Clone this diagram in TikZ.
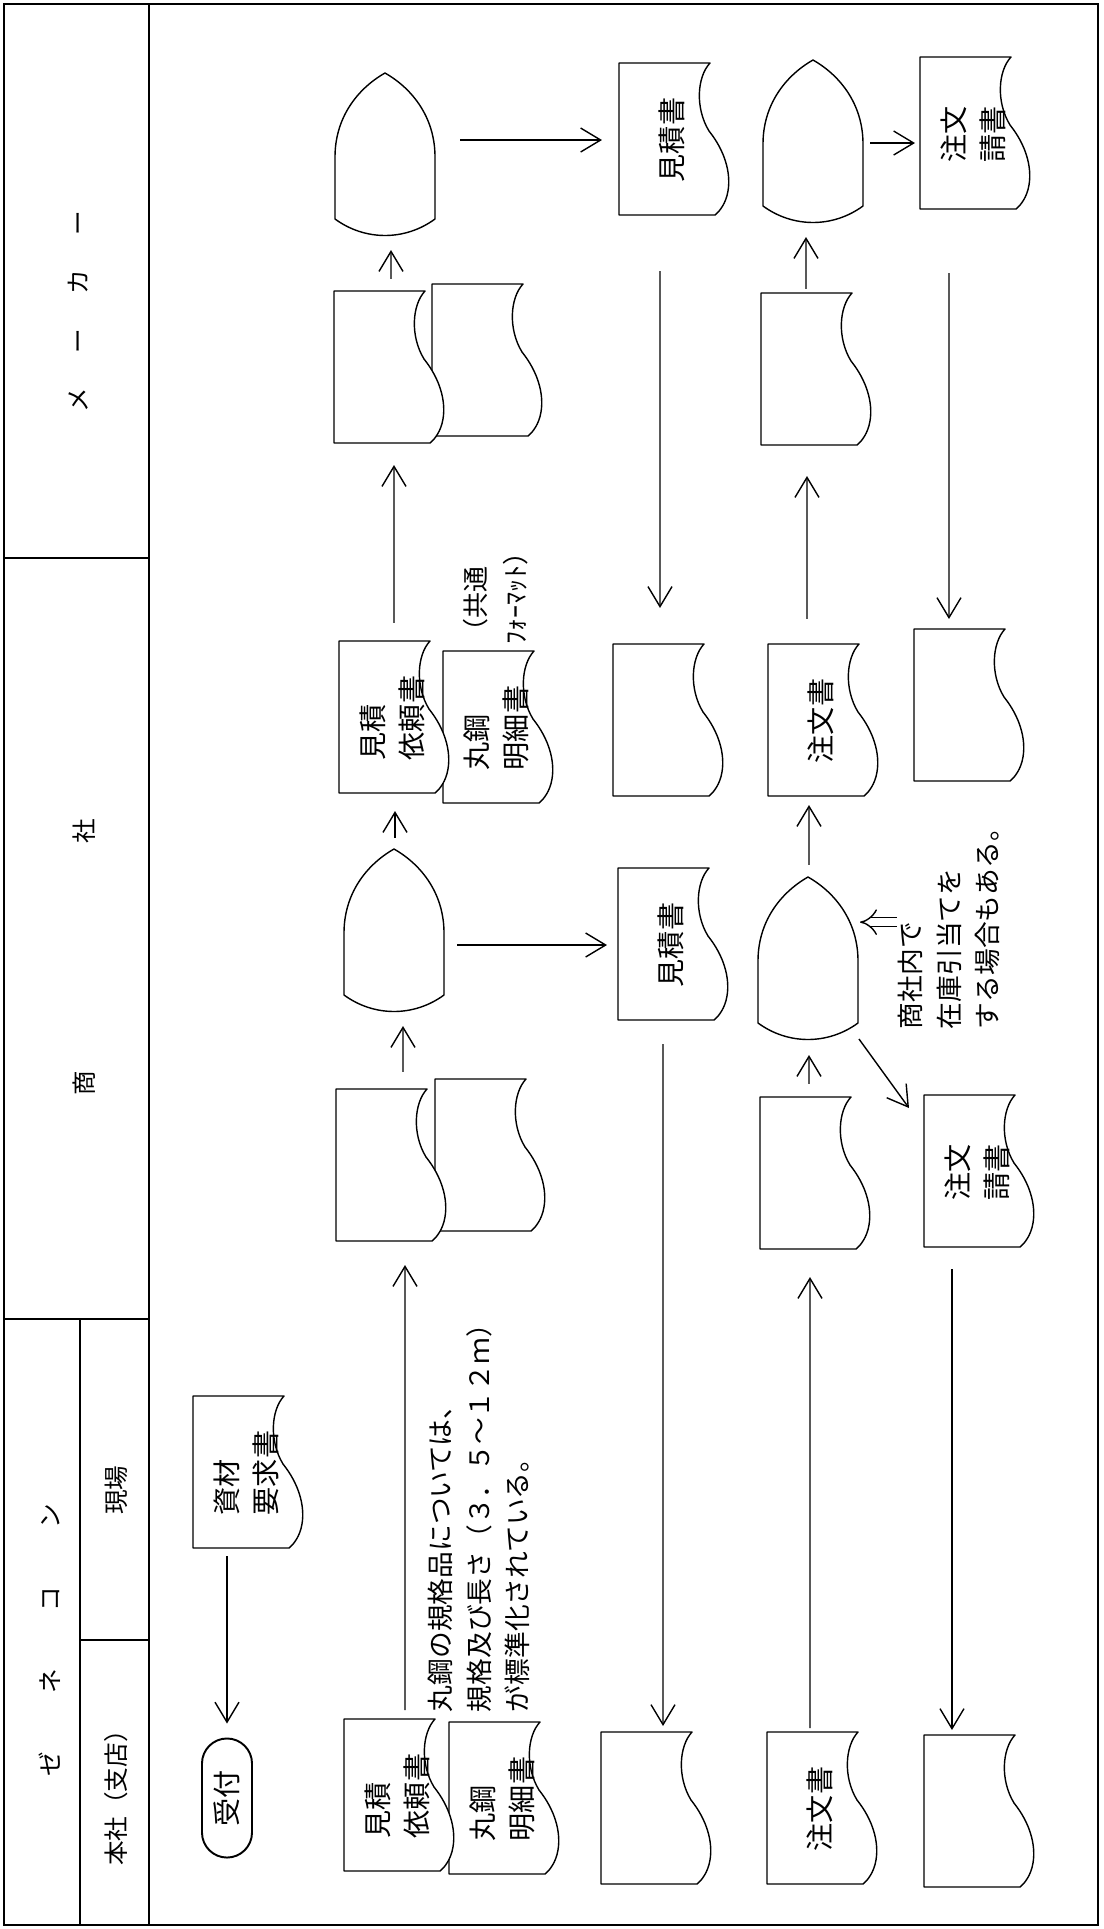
\documentclass[tikz,border=0pt]{standalone}
\usepackage{fontspec}
\setmainfont{Noto Sans CJK JP}
\usepackage{graphicx}
\usetikzlibrary{arrows.meta,calc,backgrounds}
\newcommand{\vtext}[1]{\rotatebox{90}{\begin{tabular}{@{}l@{}}#1\end{tabular}}\hspace{0.2cm}}

\begin{document}
\begin{tikzpicture}[
  	x=0.01cm,
  	y=-0.01cm,
  	line width=0.55pt,
  	font=\fontsize{8}{11}\selectfont,
  	docnode/.style={rectangle,draw=none,minimum width=1.10cm,minimum height=1.52cm,inner sep=0pt},
  	lensnode/.style={rectangle,draw=none,minimum width=1.00cm,minimum height=1.64cm,inner sep=0pt},
  	docline/.style={draw=black,fill=white,line join=round},
  	lanehead/.style={rotate=90,inner sep=0pt,font=\fontsize{7}{9}\selectfont},
  	note/.style={rotate=90,anchor=west,align=left,inner sep=0pt,font=\fontsize{7.6}{11}\selectfont},
  	pill/.style={draw,rounded corners=0.25cm,minimum width=0.5cm,minimum height=1.19cm,inner sep=0pt},
  	flow/.style={-{Straight Barb[length=2mm,width=2.4mm]}},
  	dblarrow/.style={double,double distance=2.2pt,-{Implies}}
  	]
  	\useasboundingbox (0,0) rectangle (1104,1929);
  	
  	% Frame and lane headers
  	\draw (4,4) rectangle (1098,1925);
  	\draw (149,4) -- (149,1925);
  	\draw (4,558) -- (149,558);
  	\draw (4,1319) -- (149,1319);
  	\draw (80,1319) -- (80,1925);
  	\draw (80,1640) -- (149,1640);
  	\node[lanehead] (hd-maker) at (78,312) {メ\hspace{1.4em}ー\hspace{1.4em}カ\hspace{1.4em}ー};
  	\node[lanehead] (hd-shosha) at (84,957) {商\hspace{2.27cm}社};
  	\node[lanehead] (hd-zenecon) at (50,1640) {ゼ\hspace{0.58cm}ネ\hspace{0.58cm}コ\hspace{0.58cm}ン};
  	\node[lanehead] (hd-genba) at (116,1490) {現場};
  	\node[lanehead] (hd-honsha) at (116,1792) {本社（支店）};
  	
  	% Maker lane
  	\node[lensnode] (a1) at (386,156) {};
  	\node[lensnode] (a3) at (814,143) {};
  	\node[docnode] (m-mitsumori) at (675,140) {\vtext{見積書}};
  	\node[docnode] (m-ukesho) at (976,134) {\vtext{注文\\請書}};
  	\node[docnode] (m-recv1b) at (488,361) {};
  	\node[docnode] (m-recv1a) at (390,368) {};
  	\node[docnode] (m-recv2) at (817,370) {};
  	
  	% Trading company lane
  	\node[docnode] (s-meisai) at (499,728) {\vtext{丸鋼\\明細書}};
  	\node[docnode] (s-irai) at (395,718) {\vtext{見積\\依頼書}};
  	\node[docnode] (s-recv2) at (669,721) {};
  	\node[docnode] (s-chumon) at (824,721) {\vtext{注文書}};
  	\node[docnode] (s-recv3) at (970,706) {};
  	\node[lensnode] (a2) at (395,932) {};
  	\node[lensnode] (a4) at (809,960) {};
  	\node[docnode] (s-mitsumori) at (674,945) {\vtext{見積書}};
  	\node[docnode] (s-recv1b) at (491,1156) {};
  	\node[docnode] (s-recv1a) at (392,1166) {};
  	\node[docnode] (s-recv4) at (816,1174) {};
  	\node[docnode] (s-ukesho) at (980,1172) {\vtext{注文\\請書}};
  	\node[note,font=\fontsize{7.4}{11.4}\selectfont] (note-format) at (496,645) {（共通\\ﾌｫｰﾏｯﾄ）};
  	\node[note] (note-stock) at (949,1030) {商社内で\\在庫引当てを\\する場合もある。};
  	
  	% General contractor lane
  	\node[docnode] (g-shizai) at (249,1473) {\vtext{資材\\要求書}};
  	\node[pill] (g-uketsuke) at (227,1798) {\rotatebox{90}{受付}};
  	\node[docnode] (g-meisai) at (505,1799) {\vtext{丸鋼\\明細書}};
  	\node[docnode] (g-irai) at (400,1796) {\vtext{見積\\依頼書}};
  	\node[docnode] (g-recv1) at (657,1809) {};
  	\node[docnode] (g-chumon) at (823,1809) {\vtext{注文書}};
  	\node[docnode] (g-recv2) at (980,1812) {};
  	\node[note] (note-spec) at (479,1713) {丸鋼の規格品については、\\規格及び長さ（３．５～１２ｍ）\\が標準化されている。};
  	
  	% Outlines behind the texts
  	\begin{pgfonlayer}{background}
  		\fill[white] (0,0) rectangle (1104,1929);
  		\foreach \n in {m-mitsumori,m-ukesho,m-recv1b,m-recv1a,m-recv2,s-meisai,s-irai,s-recv2,s-chumon,s-recv3,s-mitsumori,s-recv1b,s-recv1a,s-recv4,s-ukesho,g-shizai,g-meisai,g-irai,g-recv1,g-chumon,g-recv2} {
  			\begin{scope}[shift={(\n.north west)}]
  				\draw[docline] (0,0) -- (91,0) .. controls (78,14) and (76,45) .. (90,68)
  				.. controls (106,88) and (112,110) .. (109,128)
  				.. controls (107,140) and (101,148) .. (96,152) -- (0,152) -- cycle;
  			\end{scope}
  		}
  		\foreach \n in {a1,a2,a3,a4} {
  			\begin{scope}[shift={(\n.north west)}]
  				\draw[docline] (0,84) .. controls (0,45) and (22,16) .. (50,0)
  				.. controls (78,16) and (100,45) .. (100,84) -- (100,146)
  				.. controls (70,168) and (30,168) .. (0,146) -- cycle;
  			\end{scope}
  		}
  	\end{pgfonlayer}
  	
  	% Connectors
  	\draw[flow,shorten <=0.06cm,shorten >=0.14cm] (g-uketsuke.north |- g-shizai.south) -- (g-uketsuke.north);
  	\draw[flow,shorten <=0.09cm,shorten >=0.22cm] ([xshift=0.05cm]g-irai.north) -- ([xshift=0.13cm]s-recv1a.south);
  	\draw[flow,shorten <=0.17cm,shorten >=0.11cm] ([xshift=0.11cm]s-recv1a.north) -- ([xshift=0.08cm]a2.south);
  	\draw[flow,shorten <=0.11cm,shorten >=0.16cm] (a2.north) -- (s-irai.south);
  	\draw[flow,shorten <=0.18cm,shorten >=0.20cm] ([xshift=-0.01cm]s-irai.north) -- ([xshift=0.04cm]m-recv1a.south);
  	\draw[flow,shorten <=0.12cm,shorten >=0.11cm] ([xshift=0.01cm]m-recv1a.north) -- ([xshift=0.05cm]a1.south);
  	\draw[flow,shorten <=0.23cm,shorten >=0.17cm] (a1.east |- m-mitsumori.west) -- (m-mitsumori.west);
  	\draw[flow,shorten <=0.54cm,shorten >=0.36cm] ([xshift=-0.15cm]m-mitsumori.south) -- ([xshift=-0.09cm]s-recv2.north);
  	\draw[flow,shorten <=0.11cm,shorten >=0.11cm] (a2.east |- s-mitsumori.west) -- (s-mitsumori.west);
  	\draw[flow,shorten <=0.22cm,shorten >=0.06cm] ([xshift=-0.11cm]s-mitsumori.south) -- ([xshift=0.06cm]g-recv1.north);
  	\draw[flow,shorten <=0.04cm,shorten >=0.26cm] ([xshift=-0.13cm]g-chumon.north) -- ([xshift=-0.06cm]s-recv4.south);
  	\draw[flow,shorten <=0.13cm,shorten >=0.12cm] ([xshift=-0.07cm]s-recv4.north) -- (a4.south);
  	\draw[flow,shorten <=0.12cm,shorten >=0.07cm] (a4.north) -- ([xshift=-0.15cm]s-chumon.south);
  	\draw[flow,shorten <=0.25cm,shorten >=0.29cm] ([xshift=-0.17cm]s-chumon.north) -- ([xshift=-0.10cm]m-recv2.south);
  	\draw[flow,shorten <=0.04cm,shorten >=0.11cm] ([xshift=-0.11cm]m-recv2.north) -- ([xshift=-0.08cm]a3.south);
  	\draw[flow,shorten <=0.05cm,shorten >=0.05cm] (a3.east) -- (a3.east -| m-ukesho.west);
  	\draw[flow,shorten <=0.62cm,shorten >=0.10cm] ([xshift=-0.27cm]m-ukesho.south) -- ([xshift=-0.21cm]s-recv3.north);
  	\draw[flow] ([xshift=-0.01cm,yshift=0.04cm]a4.south east) -- ([xshift=-0.15cm,yshift=-0.13cm]s-ukesho.north west);
  	\draw[flow,shorten <=0.20cm,shorten >=0.05cm] ([xshift=-0.28cm]s-ukesho.south) -- ([xshift=-0.28cm]g-recv2.north);
  	\draw[dblarrow] (note-stock.north) -- (note-stock.north -| a4.east);
\end{tikzpicture}
\end{document}
